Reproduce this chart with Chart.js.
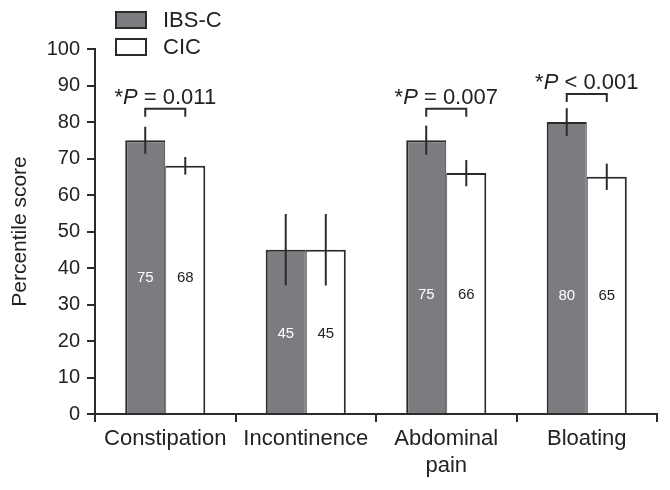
<!DOCTYPE html>
<html lang="en">
<head>
    <meta charset="UTF-8">
    <title>Percentile scores IBS-C vs CIC</title>
    <script src="https://cdn.jsdelivr.net/npm/chart.js"></script>
    <style>
        body {
            margin: 0;
            background: white;
        }
        canvas {
            display: block;
        }
    </style>
</head>
<body>
    <canvas id="chart1" width="670" height="490"></canvas>

    <script>
        const categories = [['Constipation'], ['Incontinence'], ['Abdominal', 'pain'], ['Bloating']];
        const ibsValues = [75, 45, 75, 80];
        const cicValues = [68, 45, 66, 65];
        const ibsErrors = [3.7, 9.8, 4.0, 3.8];
        const cicErrors = [2.4, 9.8, 3.6, 3.6];
        const labelLevels = [37.3, 22, 32.6, 32.3];   // where the value labels sit, in axis units
        const pOperators = ['=', null, '=', '<'];
        const pValues = ['0.011', null, '0.007', '0.001'];
        const bracketLevels = [83.6, null, 83.6, 87.7];
        const yTicks = [0, 10, 20, 30, 40, 50, 60, 70, 80, 90, 100];

        const INK = '#2b2b2b';
        const GRAY = '#7b7c80';
        const FONT = 'Arial, "Liberation Sans", sans-serif';

        // error bars, value labels, significance brackets, legend
        const annotations = {
            id: 'annotations',
            afterDatasetsDraw(chart) {
                const ctx = chart.ctx;
                const y = chart.scales.y;
                const errs = [ibsErrors, cicErrors];

                ctx.save();
                ctx.strokeStyle = INK;
                ctx.lineWidth = 2;

                chart.data.datasets.forEach((ds, di) => {
                    const meta = chart.getDatasetMeta(di);
                    meta.data.forEach((bar, i) => {
                        const v = ds.data[i];
                        const e = errs[di][i];
                        ctx.beginPath();
                        ctx.moveTo(bar.x, y.getPixelForValue(v + e));
                        ctx.lineTo(bar.x, y.getPixelForValue(v - e));
                        ctx.stroke();

                        ctx.font = '15px ' + FONT;
                        ctx.fillStyle = di === 0 ? '#ffffff' : '#222222';
                        ctx.textAlign = 'center';
                        ctx.textBaseline = 'middle';
                        ctx.fillText(String(v), bar.x, y.getPixelForValue(labelLevels[i]));
                    });
                });

                const m0 = chart.getDatasetMeta(0).data;
                const m1 = chart.getDatasetMeta(1).data;
                bracketLevels.forEach((lvl, i) => {
                    if (lvl === null) return;
                    const x0 = m0[i].x, x1 = m1[i].x;
                    const by = y.getPixelForValue(lvl);
                    ctx.beginPath();
                    ctx.moveTo(x0, by + 8);
                    ctx.lineTo(x0, by);
                    ctx.lineTo(x1, by);
                    ctx.lineTo(x1, by + 8);
                    ctx.stroke();

                    // "*P = 0.011" with italic P
                    const normal = '22px ' + FONT;
                    const italic = 'italic 22px ' + FONT;
                    const parts = [
                        ['*', normal],
                        ['P', italic],
                        [' ' + pOperators[i] + ' ' + pValues[i], normal]
                    ];
                    let total = 0;
                    parts.forEach(p => { ctx.font = p[1]; total += ctx.measureText(p[0]).width; });
                    let tx = (x0 + x1) / 2 - total / 2;
                    ctx.fillStyle = '#222222';
                    ctx.textAlign = 'left';
                    ctx.textBaseline = 'alphabetic';
                    parts.forEach(p => {
                        ctx.font = p[1];
                        ctx.fillText(p[0], tx, by - 5);
                        tx += ctx.measureText(p[0]).width;
                    });
                });

                // legend
                chart.data.datasets.forEach((ds, di) => {
                    const top = 12 + di * 27;
                    ctx.fillStyle = ds.backgroundColor;
                    ctx.fillRect(116, top, 30, 16);
                    ctx.lineWidth = 2;
                    ctx.strokeRect(116, top, 30, 16);
                    ctx.font = '22px ' + FONT;
                    ctx.fillStyle = '#222222';
                    ctx.textAlign = 'left';
                    ctx.textBaseline = 'middle';
                    ctx.fillText(ds.label, 163, top + 9);
                });
                ctx.restore();
            }
        };

        const ctx = document.getElementById('chart1').getContext('2d');
        const chart1 = new Chart(ctx, {
            type: 'bar',
            data: {
                labels: categories,
                datasets: [
                    {
                        label: 'IBS-C',
                        data: ibsValues,
                        backgroundColor: GRAY,
                        borderColor: INK,
                        borderWidth: { left: 2, top: 2, right: 1, bottom: 0 }
                    },
                    {
                        label: 'CIC',
                        data: cicValues,
                        backgroundColor: '#ffffff',
                        borderColor: INK,
                        borderWidth: { left: 1, top: 2, right: 2, bottom: 0 }
                    }
                ]
            },
            options: {
                responsive: false,
                animation: false,
                layout: {
                    padding: { top: 49, right: 13, left: 0, bottom: 0 }
                },
                datasets: {
                    bar: {
                        categoryPercentage: 0.57,
                        barPercentage: 1.0
                    }
                },
                plugins: {
                    legend: { display: false },
                    tooltip: { enabled: false }
                },
                scales: {
                    x: {
                        grid: {
                            offset: true,
                            drawOnChartArea: false,
                            drawTicks: true,
                            tickLength: 8,
                            color: INK,
                            lineWidth: 2
                        },
                        border: { color: INK, width: 2 },
                        ticks: {
                            color: '#222222',
                            padding: 4,
                            maxRotation: 0,
                            font: { family: FONT, size: 22, lineHeight: 1.2 }
                        },
                        afterFit(scale) { scale.height = 76; }
                    },
                    y: {
                        min: 0,
                        max: 100,
                        afterBuildTicks(scale) {
                            scale.ticks = yTicks.map(v => ({ value: v }));
                        },
                        grid: {
                            drawOnChartArea: false,
                            drawTicks: true,
                            tickLength: 8,
                            color: INK,
                            lineWidth: 2
                        },
                        border: { color: INK, width: 2 },
                        ticks: {
                            color: '#222222',
                            padding: 7,
                            font: { family: FONT, size: 20 }
                        },
                        title: {
                            display: true,
                            text: 'Percentile score',
                            color: '#222222',
                            padding: { top: 8, bottom: 4 },
                            font: { family: FONT, size: 21 }
                        },
                        afterFit(scale) { scale.width = 95; }
                    }
                }
            },
            plugins: [annotations]
        });
    </script>
</body>
</html>
